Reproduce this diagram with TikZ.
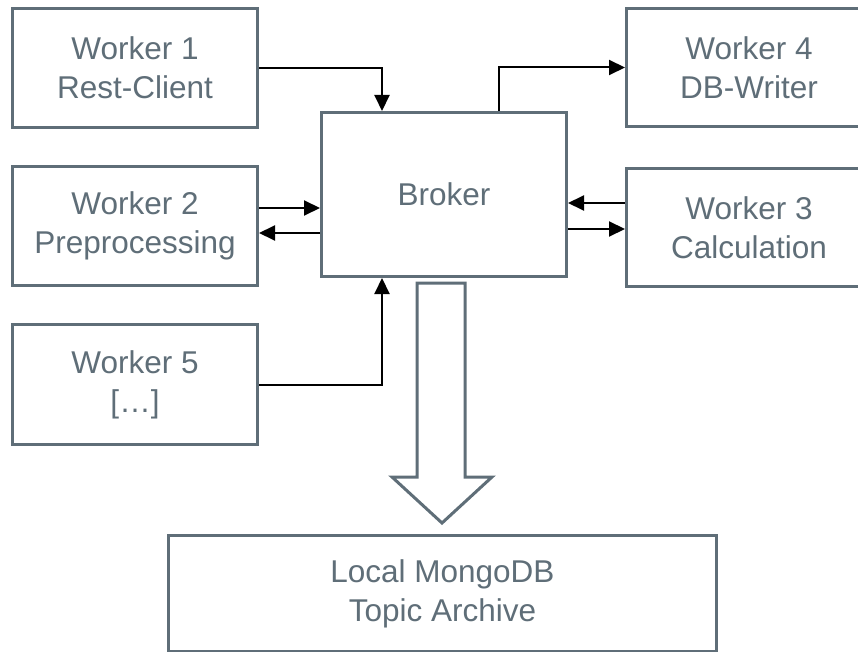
\documentclass[tikz,border=0pt]{standalone}
\usepackage{fontspec}
\setmainfont{Liberation Sans}
\usetikzlibrary{arrows.meta,calc}
\definecolor{boxgray}{HTML}{5F6E78}
\begin{document}
\begin{tikzpicture}[x=1pt,y=-1pt,
  box/.style={draw=boxgray, line width=3pt, fill=white, align=center, text=boxgray,
    font=\fontsize{31.5}{39}\selectfont, inner sep=0pt, anchor=north west},
  conn/.style={line width=2pt, -{Triangle[length=16pt,width=15pt]}},
  bigarrow/.style={draw=boxgray, line width=3pt, fill=white, line join=miter}]
\clip (0,0) rectangle (858,652);
\node[box, minimum width=245, minimum height=119] (w1) at (11,7) {Worker 1\\Rest-Client};
\node[box, minimum width=245, minimum height=119] (w2) at (11,165) {Worker 2\\Preprocessing};
\node[box, minimum width=245, minimum height=120] (w5) at (11,323) {Worker 5\\{[}…{]}};
\node[box, minimum width=245, minimum height=164] (broker) at (320,111) {Broker};
\node[box, minimum width=245, minimum height=118] (w4) at (625,7) {Worker 4\\DB-Writer};
\node[box, minimum width=245, minimum height=118] (w3) at (625,167) {Worker 3\\Calculation};
\node[box, minimum width=548, minimum height=116] (db) at (167,534) {Local MongoDB\\Topic Archive};
% connectors
\draw[conn] (w1.east) -| ($(broker.north west)+(62,0)$);
\draw[conn] ($(broker.north west)+(179,0)$) |- (w4.west);
\draw[conn] (w2.east |- 0,208) -- (broker.west |- 0,208);
\draw[conn] (broker.west |- 0,233) -- (w2.east |- 0,233);
\draw[conn] (w3.west |- 0,203) -- (broker.east |- 0,203);
\draw[conn] (broker.east |- 0,229) -- (w3.west |- 0,229);
\draw[conn] (w5.east) -| ($(broker.south west)+(62,0)$);
% big hollow arrow
\draw[bigarrow] (417,283) -- (465,283) -- (465,477) -- (492,477) -- (442,523) -- (392,477) -- (417,477) -- cycle;
\end{tikzpicture}
\end{document}
